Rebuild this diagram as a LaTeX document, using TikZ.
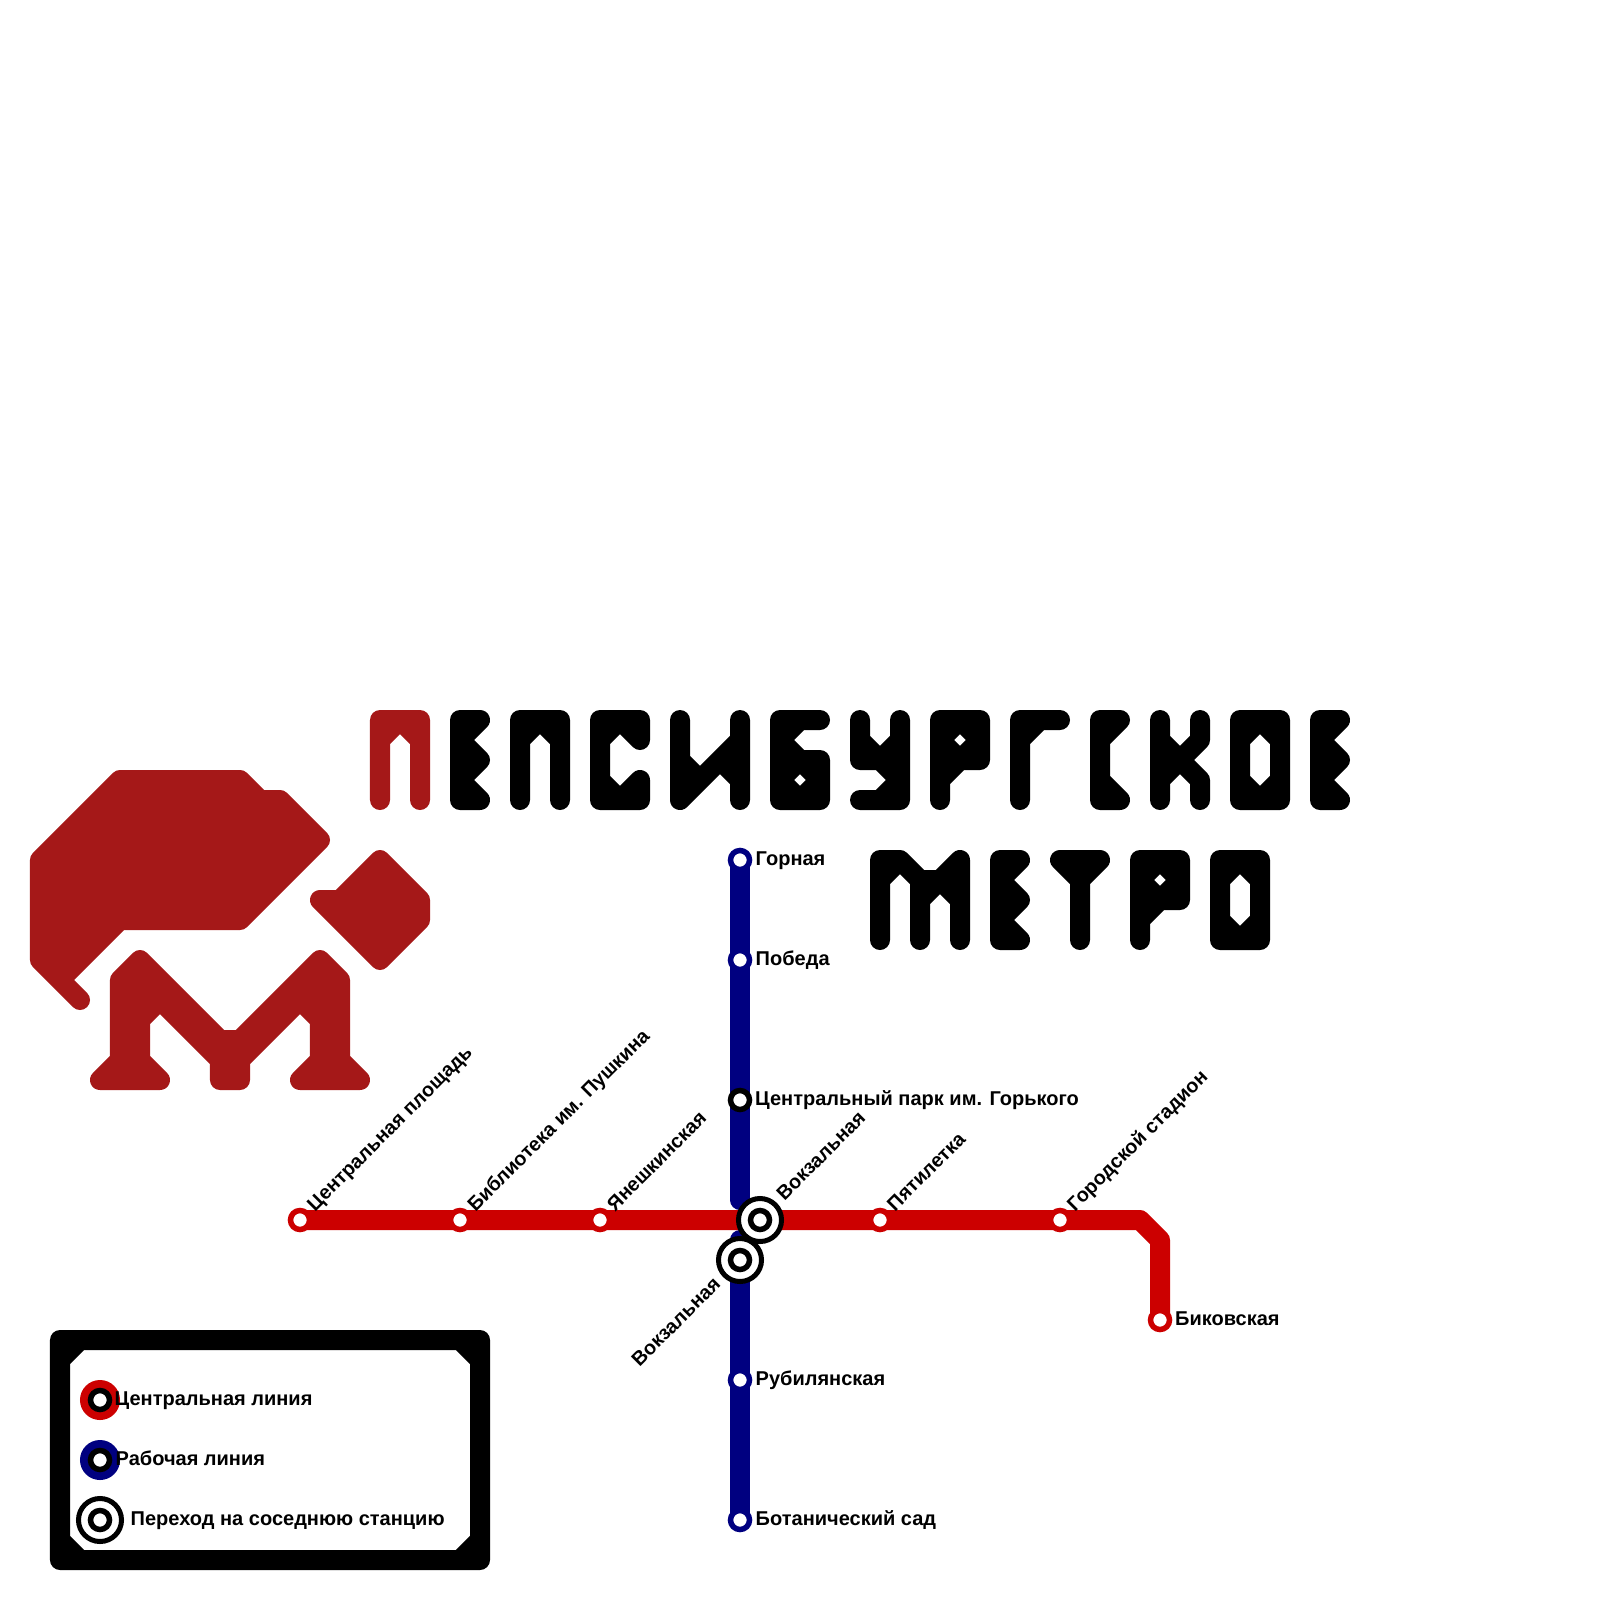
\documentclass[tikz,border=0pt]{standalone}
\usepackage{fontspec}
\setmainfont{Liberation Sans}
\usetikzlibrary{backgrounds}
\definecolor{logored}{HTML}{A51818}
\definecolor{linered}{HTML}{CC0000}
\definecolor{lineblue}{HTML}{000080}
\tikzset{
  glyph/.style={line width=2mm, line cap=round, line join=round},
  track/.style={line width=2mm, line cap=round, line join=round},
  stop/.style={circle, draw, fill=white, line width=0.55mm, minimum size=1.9mm, inner sep=0pt, outer sep=0pt},
  hub/.style={circle, draw=black, fill=white, line width=0.5mm, minimum size=4.3mm, inner sep=0pt, outer sep=0pt},
  swatch/.style={circle, minimum size=4mm, inner sep=0pt, outer sep=0pt},
  lbl/.style={anchor=base west, inner sep=0pt, font=\fontsize{5.69pt}{6.8pt}\selectfont\bfseries},
  tilted/.style={anchor=base west, inner sep=0pt, rotate=45, font=\fontsize{5.62pt}{6.8pt}\selectfont\bfseries}
}
\begin{document}
\begin{tikzpicture}[x=0.01cm, y=-0.01cm]
\useasboundingbox (0,0) rectangle (1600,1600);

% Logo
\filldraw[glyph, draw=logored, fill=logored] (40,860) -- (120,780) -- (240,780) -- (260,800) -- (280,800) -- (320,840) -- (240,920) -- (120,920) -- (60,980) -- (80,1000) -- (40,960) -- cycle;
\filldraw[glyph, draw=logored, fill=logored] (380,860) -- (420,900) -- (420,920) -- (380,960) -- (320,900) -- (340,900) -- cycle;
\filldraw[glyph, draw=logored, fill=logored] (120,980) -- (140,960) -- (220,1040) -- (240,1040) -- (320,960) -- (340,980) -- (340,1060) -- (360,1080) -- (300,1080) -- (320,1060) -- (320,1020) -- (300,1000) -- (240,1060) -- (240,1080) -- (220,1080) -- (220,1060) -- (160,1000) -- (140,1020) -- (140,1060) -- (160,1080) -- (100,1080) -- (120,1060) -- cycle;

% Title, first line
\draw[glyph, logored] (380,800) -- (380,720) -- (420,720) -- (420,800) (380,740) -- (400,720) -- (420,740);
\draw[glyph] (480,720) -- (460,720) -- (460,800) -- (480,800) -- (460,780) -- (480,760) -- (460,740) -- cycle;
\draw[glyph] (520,800) -- (520,720) -- (560,720) -- (560,800) (520,740) -- (540,720) -- (560,740);
\draw[glyph] (640,740) -- (640,720) -- (600,720) -- (600,800) -- (640,800) -- (640,780) -- (620,800) -- (600,780) (600,740) -- (620,720) -- (640,740);
\draw[glyph] (680,720) -- (680,800) -- (740,740) (740,720) -- (740,800) (680,760) -- (700,780) (720,760) -- (740,780);
\draw[glyph] (820,720) -- (780,720) -- (780,800) -- (820,800) -- (820,760) -- (800,760) -- (780,740) -- (800,720) (800,760) -- (820,780) -- (800,800) -- (780,780) -- cycle;
\draw[glyph] (860,720) -- (860,760) -- (880,760) -- (900,780) -- (880,800) -- (860,800) (880,800) -- (900,800) -- (900,720) (860,740) -- (880,760) -- (900,740);
\draw[glyph] (940,800) -- (940,720) -- (980,720) -- (980,760) -- (960,760) -- (940,780) (960,720) -- (980,740) -- (960,760) -- (940,740) -- cycle;
\draw[glyph] (1060,720) -- (1020,720) -- (1020,800) (1040,720) -- (1020,740);
\draw[glyph] (1120,720) -- (1100,720) -- (1100,800) -- (1120,800) -- (1100,780) (1120,720) -- (1100,740);
\draw[glyph] (1160,720) -- (1160,800) (1200,720) -- (1200,740) -- (1180,760) -- (1200,780) -- (1200,800) (1160,740) -- (1180,760) -- (1160,780);
\draw[glyph] (1240,720) -- (1280,720) -- (1280,800) -- (1240,800) -- cycle (1240,740) -- (1260,720) -- (1280,740) (1240,780) -- (1260,800) -- (1280,780);
\draw[glyph] (1340,720) -- (1320,720) -- (1320,800) -- (1340,800) -- (1320,780) -- (1340,760) -- (1320,740) -- cycle;

% Title, second line
\draw[glyph] (880,940) -- (880,860) -- (900,860) -- (920,880) -- (940,880) -- (960,860) -- (960,940) (880,880) -- (900,860) (920,880) -- (920,940) (920,900) -- (940,880) -- (960,900);
\draw[glyph] (1020,860) -- (1000,860) -- (1000,940) -- (1020,940) -- (1000,920) -- (1020,900) -- (1000,880) -- cycle;
\draw[glyph] (1060,860) -- (1100,860) -- (1080,880) -- cycle (1080,860) -- (1080,940);
\draw[glyph] (1140,940) -- (1140,860) -- (1180,860) -- (1180,900) -- (1160,900) -- (1140,920) (1160,860) -- (1180,880) -- (1160,900) -- (1140,880) -- cycle;
\draw[glyph] (1220,860) -- (1260,860) -- (1260,940) -- (1220,940) -- cycle (1220,880) -- (1240,860) -- (1260,880) (1220,920) -- (1240,940) -- (1260,920);

% Blue line stations
\node[stop, draw=lineblue] (gornaya) at (740,860) {};
\node[stop, draw=lineblue] (pobeda) at (740,960) {};
\node[stop, draw=black] (park) at (740,1100) {};
\node[stop, draw=lineblue] (rubil) at (740,1380) {};
\node[stop, draw=lineblue] (botan) at (740,1520) {};
\coordinate (blueend) at (740,1200);
\coordinate (bluestart) at (740,1240);

% Red line stations
\node[stop, draw=linered] (central) at (300,1220) {};
\node[stop, draw=linered] (biblio) at (460,1220) {};
\node[stop, draw=linered] (yanesh) at (600,1220) {};
\node[stop, draw=linered] (pyatil) at (880,1220) {};
\node[stop, draw=linered] (stadion) at (1060,1220) {};
\node[stop, draw=linered] (bikov) at (1160,1320) {};
\coordinate (bendtop) at (1140,1220);
\coordinate (bendlow) at (1160,1240);

% Transfer stations
\node[hub] (vokzred) at (760,1220) {};
\node[stop, draw=black] (vokzredin) at (760,1220) {};
\node[hub] (vokzblue) at (740,1260) {};
\node[stop, draw=black] (vokzbluein) at (740,1260) {};

% Lines
\begin{scope}[on background layer]
\draw[track, lineblue] (gornaya.center) -- (pobeda.center) -- (park.center) -- (blueend);
\draw[track, lineblue] (bluestart) -- (vokzblue.center) -- (rubil.center) -- (botan.center);
\draw[track, linered] (central.center) -- (biblio.center) -- (yanesh.center) -- (vokzred.center) -- (pyatil.center) -- (stadion.center) -- (bendtop) -- (bendlow) -- (bikov.center);
\end{scope}

% Station labels
\node[lbl] (lgornaya) at (755,865) {Горная};
\node[lbl] (lpobeda) at (755,965) {Победа};
\node[lbl] (lpark) at (754.5,1105) {Центральный парк им. Горького};
\node[lbl] (lrubil) at (755,1385) {Рубилянская};
\node[lbl] (lbotan) at (755,1525) {Ботанический сад};
\node[lbl] (lbikov) at (1174.5,1325) {Биковская};
\node[tilted] (lcentral) at (314.5,1212.5) {Центральная площадь};
\node[tilted] (lbiblio) at (475,1213) {Библиотека им. Пушкина};
\node[tilted] (lyanesh) at (614.5,1212.5) {Янешкинская};
\node[tilted] (lvokzred) at (784,1202) {Вокзальная};
\node[tilted] (lpyatil) at (894.5,1212.5) {Пятилетка};
\node[tilted] (lstadion) at (1074.5,1212.5) {Городской стадион};
\node[tilted] (lvokzblue) at (639,1368) {Вокзальная};

% Legend
\draw[glyph] (60,1340) -- (480,1340) -- (480,1560) -- (60,1560) -- cycle (60,1360) -- (80,1340) (460,1340) -- (480,1360) (60,1540) -- (80,1560) (460,1560) -- (480,1540);
\node[swatch, fill=linered] (keyred) at (100,1400) {};
\node[stop, draw=black] (keyredin) at (100,1400) {};
\node[swatch, fill=lineblue] (keyblue) at (100,1460) {};
\node[stop, draw=black] (keybluein) at (100,1460) {};
\node[hub] (keyhub) at (100,1520) {};
\node[stop, draw=black] (keyhubin) at (100,1520) {};
\node[lbl] (lkeyred) at (114,1405) {Центральная линия};
\node[lbl] (lkeyblue) at (115,1465) {Рабочая линия};
\node[lbl] (lkeyhub) at (130,1525) {Переход на соседнюю станцию};
\end{tikzpicture}
\end{document}
